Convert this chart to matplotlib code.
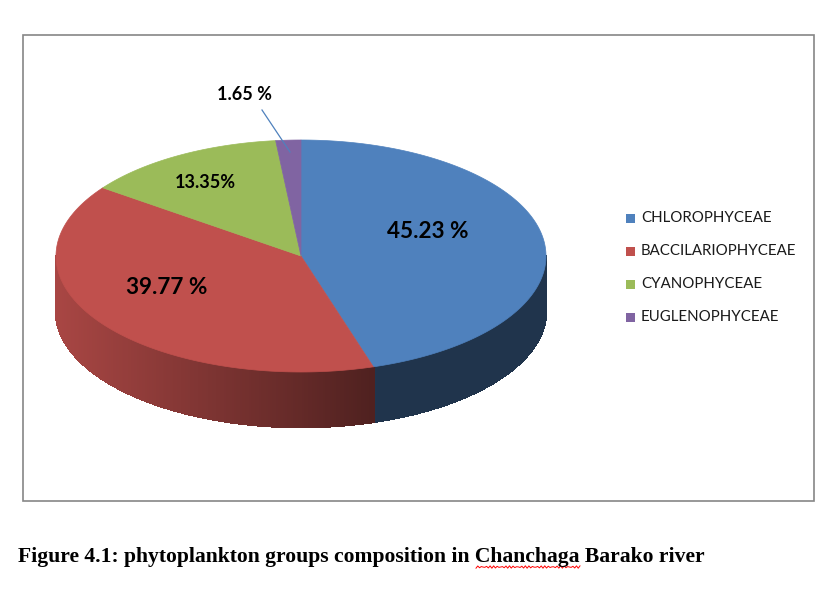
import numpy as np
import matplotlib
matplotlib.use("Agg")
import matplotlib.pyplot as plt
from matplotlib.patches import Polygon, Rectangle

# ---- data ----
categories = ["CHLOROPHYCEAE", "BACCILARIOPHYCEAE", "CYANOPHYCEAE", "EUGLENOPHYCEAE"]
values = [45.23, 39.77, 13.35, 1.65]
labels = ["45.23 %", "39.77 %", "13.35%", "1.65 %"]
colors = ["#4F81BD", "#C0504D", "#9BBB59", "#8064A2"]
caption = "Figure 4.1: phytoplankton groups composition in Chanchaga Barako river"

W, H = 838, 601
fig = plt.figure(figsize=(W / 100, H / 100), dpi=100)
ax = fig.add_axes([0, 0, 1, 1])
ax.set_xlim(0, W)
ax.set_ylim(H, 0)
ax.axis("off")

# chart frame
ax.add_patch(Rectangle((23, 35), 791, 466, fill=False, edgecolor="#868686", lw=1.2))

# pie geometry (pixels)
cx, cy, rx, ry, depth = 301, 256, 245, 116, 55


def pt(theta_deg):
    t = np.radians(theta_deg)
    return cx + rx * np.cos(t), cy - ry * np.sin(t)


def shade(base, x):
    f = 0.88 - 0.48 * (x - (cx - rx)) / 327.0
    f = max(0.40, min(0.88, f))
    rgb = np.array(matplotlib.colors.to_rgb(base))
    return tuple(rgb * f)


# wedge angle spans (start at 12 o'clock, clockwise)
fracs = np.array(values) / np.sum(values)
spans = []
start = 90.0
for f in fracs:
    end = start - 360.0 * f
    spans.append((end, start))
    start = end

# side walls (front half: angles where sin < 0)
for (a0, a1), col in zip(spans, colors):
    lo, hi = a0 % 360, a1 % 360
    if hi <= lo:
        hi += 360
    ths = np.arange(lo, hi, 0.5)
    ths = np.append(ths, hi)
    for t1, t2 in zip(ths[:-1], ths[1:]):
        tm = 0.5 * (t1 + t2)
        if np.sin(np.radians(tm)) >= 0:
            continue
        x1, y1 = pt(t1)
        x2, y2 = pt(t2)
        c = shade(col, 0.5 * (x1 + x2))
        ax.add_patch(Polygon([(x1, y1), (x2, y2), (x2, y2 + depth), (x1, y1 + depth)],
                             closed=True, facecolor=c, edgecolor=c, lw=1.2,
                             antialiased=False))

# top faces
for (a0, a1), col in zip(spans, colors):
    ths = np.linspace(a0, a1, 200)
    pts = [(cx, cy)] + [pt(t) for t in ths]
    ax.add_patch(Polygon(pts, closed=True, facecolor=col, edgecolor=col, lw=0.5))

# data labels
lab_font = ["Lato", "DejaVu Sans"]
ax.text(428, 231, labels[0], fontsize=16.2, fontweight="bold", ha="center", va="center",
        family=lab_font, color="black")
ax.text(167, 287, labels[1], fontsize=16.2, fontweight="bold", ha="center", va="center",
        family=lab_font, color="black")
ax.text(205, 182, labels[2], fontsize=13, fontweight="bold", ha="center", va="center",
        family=lab_font, color="black")
ax.text(244, 95, labels[3], fontsize=13, fontweight="bold", ha="center", va="center",
        family=lab_font, color="black")
ax.plot([262, 290], [110, 152], color="#4F81BD", lw=0.9)

# legend
leg_y = [218, 251, 284, 317]
for name, col, y in zip(categories, colors, leg_y):
    ax.add_patch(Rectangle((626, y - 4.5), 9, 9, facecolor=col, edgecolor="none"))
    ax.text(641, y, name, fontsize=10.8, ha="left", va="center", family=lab_font, color="#1a1a1a")

# caption
ax.text(18, 557, caption, fontsize=15.6, fontweight="bold", ha="left", va="center",
        family=["Liberation Serif", "DejaVu Serif"], color="black")
# spell-check squiggle under "Chanchaga"
xs = np.linspace(476, 580, 60)
ax.plot(xs, 567 + 1.2 * np.sin(xs * 1.6), color="red", lw=0.7)

fig.savefig("out.png", dpi=100)
